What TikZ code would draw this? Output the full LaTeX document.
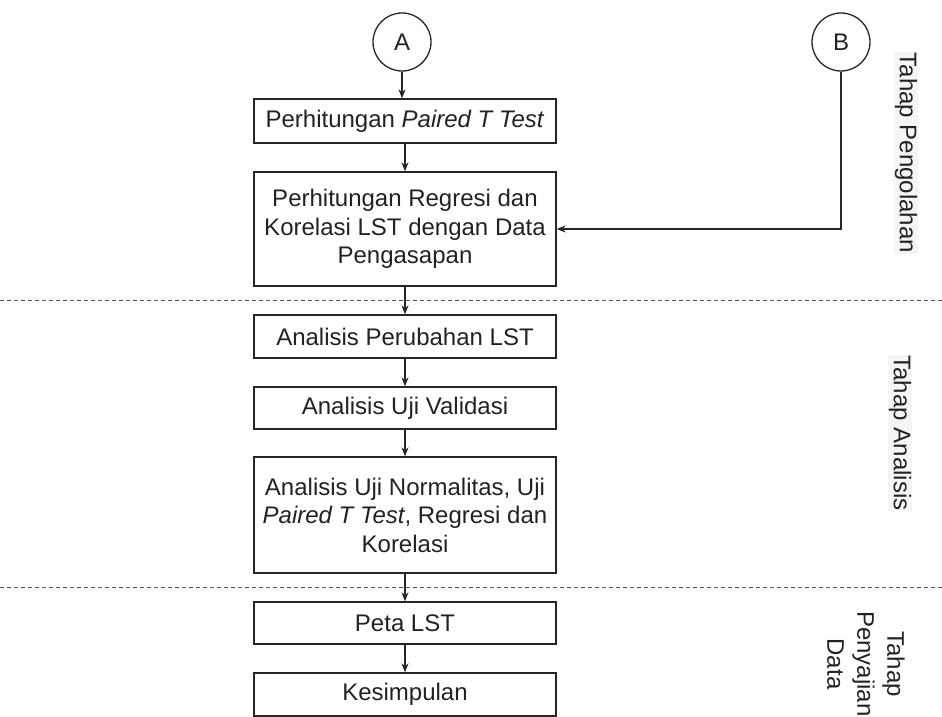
\documentclass[tikz,border=0pt]{standalone}
\usepackage{fontspec}
\setmainfont{Liberation Sans}
\usetikzlibrary{arrows.meta}
\definecolor{lblbg}{HTML}{F4F5F7}
\definecolor{txt}{HTML}{222222}
\begin{document}
\begin{tikzpicture}[x=1pt,y=-1pt,
  font=\fontsize{24}{28.5}\selectfont,
  box/.style={draw=black!85, line width=1.3pt, minimum width=302pt, inner sep=0pt, align=center, text=txt},
  conn/.style={circle, draw=black!85, line width=1.3pt, minimum size=58pt, inner sep=0pt, text=txt},
  arr/.style={-{Stealth[length=9pt,width=7pt]}, line width=1.3pt, draw=black!85},
  sepline/.style={dash pattern=on 4pt off 3pt, line width=1pt, draw=black!65},
  lbl/.style={rotate=-90, fill=lblbg, inner sep=1pt, text=txt}]
\useasboundingbox (0,0) rectangle (942,717);
% separators
\draw[sepline] (0,300) -- (942,300);
\draw[sepline] (0,587) -- (942,587);
% connectors
\node[conn] (A) at (402,42) {A};
\node[conn] (B) at (841,42) {B};
% boxes
\node[box, minimum height=44pt] (b1) at (405,121) {Perhitungan \textit{Paired T Test}};
\node[box, minimum height=114pt] (b2) at (405,229) {Perhitungan Regresi dan\\Korelasi LST dengan Data\\Pengasapan};
\node[box, minimum height=43pt] (b3) at (405,336.5) {Analisis Perubahan LST};
\node[box, minimum height=42pt] (b4) at (405,408) {Analisis Uji Validasi};
\node[box, minimum height=116pt] (b5) at (405,515) {Analisis Uji Normalitas, Uji\\\textit{Paired T Test},\ Regresi dan\\Korelasi};
\node[box, minimum height=42pt] (b6) at (405,623) {Peta LST};
\node[box, minimum height=43pt] (b7) at (405,694.5) {Kesimpulan};
% arrows
\draw[arr] (A.south) -- (A.south |- b1.north);
\draw[arr] (b1) -- (b2);
\draw[arr] (b2) -- (b3);
\draw[arr] (b3) -- (b4);
\draw[arr] (b4) -- (b5);
\draw[arr] (b5) -- (b6);
\draw[arr] (b6) -- (b7);
\draw[arr] (B.south) |- (b2.east);
% stage labels
\node[lbl] (l1) at (906,153) {Tahap Pengolahan};
\node[lbl] (l2) at (900,433) {Tahap Analisis};
\node[rotate=-90, align=center, text=txt, font=\fontsize{24}{30}\selectfont] (l3) at (866,664) {Tahap\\Penyajian\\Data};
\end{tikzpicture}
\end{document}
